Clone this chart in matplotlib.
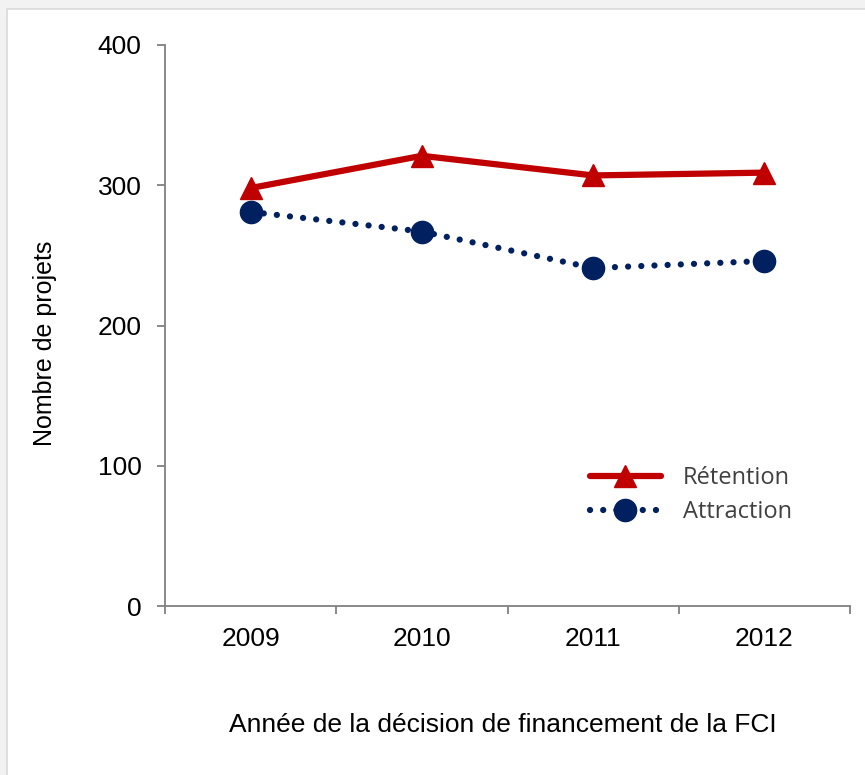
import matplotlib.pyplot as plt
from matplotlib.patches import Rectangle
from matplotlib.ticker import FixedLocator

years = ['2009', '2010', '2011', '2012']
retention = [298, 321, 307, 309]
attraction = [281, 267, 241, 246]

W, H = 865, 775
fig = plt.figure(figsize=(W / 100, H / 100), dpi=100)
fig.patch.set_facecolor('#f2f2f2')
# white panel with light border
fig.patches.append(Rectangle((7 / W, -0.01), 1, 1.01 - 9 / H, transform=fig.transFigure,
                             facecolor='white', edgecolor='#d9d9d9', linewidth=1.2, zorder=-5))

ax = fig.add_axes([165 / W, 1 - 606 / H, (850 - 165) / W, (606 - 45) / H])
ax.set_zorder(2)
ax.set_facecolor('none')

x = list(range(len(years)))
ax.plot(x, retention, color='#c00000', linewidth=4.5, marker='^', markersize=16,
        label='Rétention', solid_capstyle='round', clip_on=False, zorder=3)
ax.plot(x, attraction, color='#002060', linewidth=4.5, linestyle=(0, (0.01, 2.1)),
        dash_capstyle='round', marker='o', markersize=16, label='Attraction',
        clip_on=False, zorder=3)

ax.set_xlim(-0.5, 3.5)
ax.set_ylim(0, 400)
ax.set_yticks([0, 100, 200, 300, 400])
ax.set_xticks(x)
ax.set_xticklabels(years)
ax.xaxis.set_minor_locator(FixedLocator([-0.5, 0.5, 1.5, 2.5, 3.5]))

for s in ['top', 'right']:
    ax.spines[s].set_visible(False)
for s in ['left', 'bottom']:
    ax.spines[s].set_color('#808080')
    ax.spines[s].set_linewidth(1.3)

ax.tick_params(axis='y', direction='out', length=6, width=1.3, color='#808080',
               labelsize=19, pad=11)
ax.tick_params(axis='x', which='major', length=0, labelsize=19, pad=15)
ax.tick_params(axis='x', which='minor', direction='out', length=6, width=1.3,
               color='#808080')
for lab in ax.get_xticklabels() + ax.get_yticklabels():
    lab.set_family('Liberation Sans')

fig.text(45 / W, 1 - 343 / H, 'Nombre de projets', rotation=90, ha='center',
         va='center', fontsize=18, family='Liberation Sans')
fig.text(503 / W, 1 - 725 / H, 'Année de la décision de financement de la FCI',
         ha='center', va='center', fontsize=19, family='Liberation Sans')

leg = ax.legend(loc='center left', bbox_to_anchor=(578 / W, 1 - 495 / H),
                bbox_transform=fig.transFigure, frameon=False, borderpad=0,
                handlelength=3.0, handletextpad=0.95, labelspacing=0.42,
                prop={'family': 'Open Sans', 'size': 17})
for t in leg.get_texts():
    t.set_color('#404040')

fig.savefig('out.png', dpi=100, facecolor=fig.get_facecolor())
